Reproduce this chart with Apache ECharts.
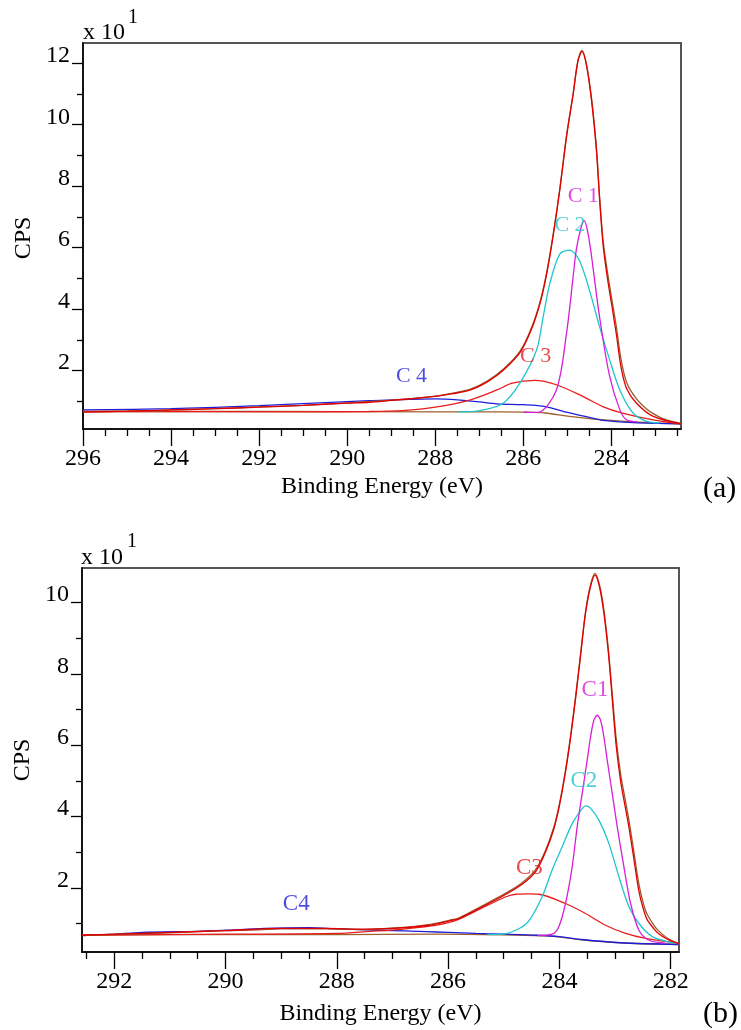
<!DOCTYPE html>
<html><head><meta charset="utf-8">
<script src="https://cdn.jsdelivr.net/npm/echarts@6/dist/echarts.min.js"></script>
<style>html,body{margin:0;padding:0;background:#fff}#c{width:741px;height:1030px}</style>
</head><body><div id="c"></div>
<script>
// ---------- panel (a) data : [binding energy eV, CPS x10] ----------
const envA = [[296,0.65],[295,0.68],[294,0.72],[293,0.76],[292,0.81],[291,0.87],[290,0.94],[289.5,0.97],[289,1.03],[288.5,1.09],[288,1.16],[287.6,1.25],[287.2,1.37],[286.8,1.65],[286.45,2.02],[286.07,2.6],[285.8,3.4],[285.6,4.3],[285.45,5.3],[285.3,6.6],[285.17,7.9],[285.02,9.6],[284.87,10.99],[284.76,12.07],[284.67,12.38],[284.57,11.96],[284.45,10.77],[284.34,9.15],[284.27,7.6],[284.19,6.1],[284.1,5.1],[284.0,4.2],[283.89,3.2],[283.78,2.1],[283.65,1.4],[283.43,0.94],[283.05,0.51],[282.42,0.27]];
const rawA = [[296,0.66],[295.5,0.67],[295,0.68],[294.6,0.70],[294.4,0.68],[294,0.72],[293,0.76],[292,0.82],[291,0.87],[290,0.95],[289,1.04],[288,1.17],[287.6,1.27],[287.2,1.40],[286.8,1.68],[286.45,2.05],[286.07,2.64],[285.8,3.45],[285.6,4.35],[285.45,5.35],[285.3,6.65],[285.17,7.95],[285.02,9.65],[284.87,11.0],[284.76,12.1],[284.67,12.42],[284.57,12.0],[284.45,10.85],[284.34,9.25],[284.27,7.7],[284.19,6.25],[284.1,5.3],[284.0,4.4],[283.89,3.45],[283.78,2.35],[283.65,1.6],[283.43,1.08],[283.2,0.75],[283.05,0.6],[282.8,0.42],[282.42,0.28]];
const c1A = [[286,0.65],[285.67,0.64],[285.25,1.37],[285.02,3.21],[284.87,5.05],[284.8,5.91],[284.7,6.6],[284.62,6.88],[284.55,6.6],[284.47,5.91],[284.27,3.75],[284.04,1.81],[283.81,0.73],[283.66,0.40],[283.4,0.33]];
const c2A = [[287.5,0.66],[287.03,0.69],[286.46,0.94],[286.08,1.59],[285.7,2.67],[285.55,3.75],[285.4,4.83],[285.17,5.8],[284.95,5.92],[284.73,5.59],[284.5,4.62],[284.27,3.43],[284.04,2.35],[283.81,1.37],[283.51,0.62],[283.2,0.35],[282.9,0.30]];
const c3A = [[296,0.67],[291,0.66],[289.5,0.67],[288.75,0.70],[288,0.81],[287.2,1.05],[286.6,1.37],[286.25,1.59],[285.75,1.68],[285.25,1.54],[284.65,1.16],[284.2,0.83],[283.75,0.62],[283.05,0.40],[282.42,0.27]];
const c4A = [[296,0.72],[294,0.76],[292,0.86],[290,0.99],[289.5,1.02],[288,1.08],[287.5,1.05],[287,0.98],[286.6,0.92],[286,0.89],[285.5,0.83],[285,0.64],[284.5,0.48],[284.2,0.38],[283.5,0.31],[282.42,0.27]];
const bgA = [[296,0.67],[292,0.67],[288,0.66],[286.5,0.66],[286,0.65],[285.5,0.62],[285,0.52],[284.5,0.44],[284,0.38],[283.5,0.33],[283,0.30],[282.42,0.27]];
const labelsA = [[284.64,7.68,'C 1'],[284.94,6.74,'C 2'],[285.72,2.46,'C 3'],[288.54,1.83,'C 4']];
const xMajorA = [284,286,288,290,292,294,296];
const xMinorA = [282.5,283,283.5,284.5,285,285.5,286.5,287,287.5,288.5,289,289.5,290.5,291,291.5,292.5,293,293.5,294.5,295,295.5];
const yMajorA = [2,4,6,8,10,12];
const yMinorA = [1,3,5,7,9,11];

// ---------- panel (b) data ----------
const envB = [[292.58,0.67],[292,0.70],[291,0.75],[290,0.80],[289,0.86],[288.2,0.86],[287.5,0.84],[286.9,0.87],[286.34,0.95],[285.98,1.07],[285.8,1.14],[285.38,1.47],[284.96,1.82],[284.67,2.1],[284.43,2.45],[284.25,3.0],[284.1,3.65],[284.0,4.3],[283.9,5.15],[283.8,6.2],[283.71,7.3],[283.62,8.5],[283.53,9.7],[283.44,10.45],[283.36,10.77],[283.28,10.45],[283.2,9.7],[283.12,8.6],[283.05,7.3],[282.98,6.0],[282.9,5.0],[282.82,4.3],[282.75,3.7],[282.66,2.8],[282.57,1.9],[282.48,1.35],[282.42,1.1],[282.3,0.85],[282.22,0.72],[282.05,0.55],[281.85,0.43]];
const rawB = [[292.58,0.66],[292.2,0.68],[291.8,0.70],[291,0.74],[290.4,0.78],[290,0.80],[289.4,0.82],[289,0.85],[288.2,0.85],[287.5,0.83],[286.9,0.88],[286.34,0.97],[285.98,1.09],[285.8,1.16],[285.38,1.5],[284.96,1.85],[284.67,2.14],[284.43,2.5],[284.25,3.05],[284.1,3.7],[284.0,4.35],[283.9,5.2],[283.8,6.25],[283.71,7.35],[283.62,8.55],[283.53,9.75],[283.44,10.5],[283.36,10.82],[283.28,10.5],[283.2,9.8],[283.12,8.7],[283.05,7.45],[282.98,6.2],[282.9,5.2],[282.82,4.5],[282.75,3.9],[282.66,3.0],[282.57,2.1],[282.48,1.5],[282.42,1.25],[282.3,0.95],[282.22,0.8],[282.05,0.58],[281.85,0.44]];
const c1B = [[284.4,0.66],[284.13,0.70],[284.01,0.91],[283.89,1.56],[283.77,2.59],[283.68,3.71],[283.59,4.65],[283.5,5.58],[283.44,6.23],[283.38,6.7],[283.32,6.84],[283.26,6.7],[283.2,6.23],[283.14,5.58],[283.05,4.65],[282.96,3.71],[282.84,2.59],[282.72,1.56],[282.57,0.81],[282.39,0.53],[282.1,0.45]];
const c2B = [[285.3,0.69],[285.02,0.70],[284.72,0.86],[284.54,1.09],[284.31,1.75],[284.13,2.5],[283.95,3.15],[283.77,3.8],[283.6,4.2],[283.53,4.3],[283.45,4.25],[283.29,3.9],[283.11,3.24],[282.93,2.31],[282.75,1.47],[282.57,1.0],[282.33,0.63],[281.97,0.46],[281.85,0.43]];
const c3B = [[292.58,0.67],[290,0.70],[288,0.72],[287.4,0.78],[286.9,0.83],[286.3,0.93],[285.98,1.03],[285.8,1.12],[285.38,1.44],[284.96,1.75],[284.78,1.82],[284.55,1.83],[284.37,1.82],[283.89,1.56],[283.53,1.28],[283.17,0.95],[282.81,0.72],[282.45,0.58],[281.85,0.44]];
const c4B = [[292.58,0.66],[292,0.70],[291.5,0.75],[290.5,0.78],[290,0.81],[289.3,0.86],[288.5,0.88],[288,0.85],[287.2,0.81],[286.4,0.77],[286,0.75],[285.5,0.72],[285,0.70],[284.4,0.67],[284,0.63],[283.6,0.55],[282.9,0.46],[281.85,0.41]];
const bgB = [[292.58,0.68],[290,0.69],[288,0.69],[286.2,0.70],[285,0.68],[284.2,0.65],[283.65,0.55],[282.93,0.46],[281.85,0.41]];
const labelsB = [[283.36,7.54,'C1'],[283.56,5.0,'C2'],[284.54,2.55,'C3'],[288.73,1.56,'C4']];
const xMajorB = [282,284,286,288,290,292];
const xMinorB = [282.5,283,283.5,284.5,285,285.5,286.5,287,287.5,288.5,289,289.5,290.5,291,291.5,292.5];
const yMajorB = [2,4,6,8,10];
const yMinorB = [1,3,5,7,9];

// ---------- styling ----------
const FONT = '"Liberation Serif", "Times New Roman", serif';
const COL = {env:'#e00000', raw:'#9a5a2c', c1:'#d81ed8', c2:'#1fc6cc', c3:'#e81c1c', c4:'#1e1ed8', bg:'#a0602c'};
const LCOL = ['#d81ed8','#1fc6cc','#e81c1c','#1e1ed8'];

function xAxes(grid, min, max, major, minor, nameGap) {
  return [
    {gridIndex:grid, type:'value', inverse:true, min, max, position:'bottom',
     axisLine:{show:true, lineStyle:{color:'#000', width:1.5}},
     axisTick:{show:true, customValues:major, length:17, lineStyle:{color:'#000', width:1.3}},
     axisLabel:{customValues:major, margin:18, color:'#000', fontFamily:FONT, fontSize:24},
     splitLine:{show:false},
     name:'Binding Energy (eV)', nameLocation:'middle', nameGap, nameMoveOverlap:false,
     nameTextStyle:{color:'#000', fontFamily:FONT, fontSize:24, verticalAlign:'top'}},
    {gridIndex:grid, type:'value', inverse:true, min, max, position:'bottom',
     axisLine:{show:false},
     axisTick:{show:true, customValues:minor, length:7, lineStyle:{color:'#000', width:1.3}},
     axisLabel:{show:false}, splitLine:{show:false}}
  ];
}
function yAxes(grid, min, max, major, minor) {
  return [
    {gridIndex:grid, type:'value', min, max, position:'left',
     axisLine:{show:true, lineStyle:{color:'#000', width:1.5}},
     axisTick:{show:true, customValues:major, length:11, lineStyle:{color:'#000', width:1.3}},
     axisLabel:{customValues:major, margin:13, color:'#000', fontFamily:FONT, fontSize:24, verticalAlign:'bottom', lineHeight:15},
     splitLine:{show:false}},
    {gridIndex:grid, type:'value', min, max, position:'left',
     axisLine:{show:false},
     axisTick:{show:true, customValues:minor, length:6, lineStyle:{color:'#000', width:1.3}},
     axisLabel:{show:false}, splitLine:{show:false}}
  ];
}
function line(data, color, xi, yi, z) {
  return {type:'line', data, xAxisIndex:xi, yAxisIndex:yi, showSymbol:false, symbol:'none',
          smooth:0.3, lineStyle:{color, width:1.3}, z, silent:true, animation:false};
}
function labels(arr, xi, yi, size) {
  return {type:'scatter', xAxisIndex:xi, yAxisIndex:yi, symbolSize:1, itemStyle:{color:'transparent'},
    silent:true, animation:false, z:10,
    data: arr.map((d,i)=>({value:[d[0],d[1]], label:{show:true, position:'inside', formatter:d[2],
      color:LCOL[i], fontFamily:FONT, fontSize:size}}))};
}
function panel(xi, yi, d) {
  return [
    line(d.bg, COL.bg, xi, yi, 2),
    line(d.c4, COL.c4, xi, yi, 3),
    line(d.c3, COL.c3, xi, yi, 3),
    line(d.c2, COL.c2, xi, yi, 3),
    line(d.c1, COL.c1, xi, yi, 3),
    line(d.raw, COL.raw, xi, yi, 4),
    line(d.env, COL.env, xi, yi, 5)
  ];
}
function vtext(x, y, text) {
  return {type:'text', x, y, rotation:Math.PI/2,
    style:{text, x:0, y:0, align:'center', verticalAlign:'middle', font:'24px ' + FONT, fill:'#000'}};
}

const chart = echarts.init(document.getElementById('c'), null, {renderer:'canvas'});
chart.setOption({
  animation:false,
  backgroundColor:'#fff',
  grid:[
    {left:83, top:43, width:598, height:386, show:true, borderColor:'#555', borderWidth:2, backgroundColor:'transparent'},
    {left:82, top:568, width:597, height:384, show:true, borderColor:'#555', borderWidth:2, backgroundColor:'transparent'}
  ],
  xAxis:[...xAxes(0, 282.42, 296, xMajorA, xMinorA, 46), ...xAxes(1, 281.85, 292.58, xMajorB, xMinorB, 50)],
  yAxis:[...yAxes(0, 0.1, 12.66, yMajorA, yMinorA), ...yAxes(1, 0.2, 10.97, yMajorB, yMinorB)],
  series:[
    ...panel(0, 0, {bg:bgA, c1:c1A, c2:c2A, c3:c3A, c4:c4A, raw:rawA, env:envA}),
    labels(labelsA, 0, 0, 22),
    ...panel(2, 2, {bg:bgB, c1:c1B, c2:c2B, c3:c3B, c4:c4B, raw:rawB, env:envB}),
    labels(labelsB, 2, 2, 23)
  ],
  graphic:[
    vtext(24, 238, 'CPS'),
    vtext(23, 760, 'CPS'),
    {type:'text', left:83, top:21, style:{text:'x 10', font:'24px ' + FONT, fill:'#000'}},
    {type:'text', left:128, top:8, style:{text:'1', font:'20px ' + FONT, fill:'#000'}},
    {type:'text', left:703, top:474, style:{text:'(a)', font:'30px ' + FONT, fill:'#000'}},
    {type:'text', left:81, top:546, style:{text:'x 10', font:'24px ' + FONT, fill:'#000'}},
    {type:'text', left:127, top:532, style:{text:'1', font:'20px ' + FONT, fill:'#000'}},
    {type:'text', left:703, top:999, style:{text:'(b)', font:'30px ' + FONT, fill:'#000'}}
  ]
});
</script></body></html>
